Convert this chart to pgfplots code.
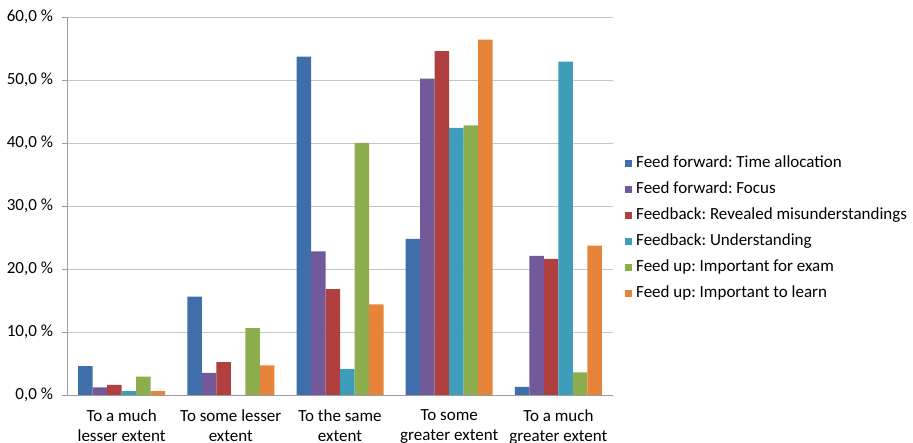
\documentclass[border=0pt]{standalone}
\usepackage{fontspec}
\setmainfont{Carlito}
\usepackage{pgfplots}
\pgfplotsset{compat=1.18}

\definecolor{cBlue}{HTML}{3F6FAA}
\definecolor{cPurple}{HTML}{71599A}
\definecolor{cRed}{HTML}{B0403F}
\definecolor{cCyan}{HTML}{3D9DBB}
\definecolor{cGreen}{HTML}{8CAE4F}
\definecolor{cOrange}{HTML}{E6843A}
\definecolor{cGrid}{HTML}{C4C4C4}

\begin{document}
\frenchspacing
\begin{tikzpicture}
\useasboundingbox (0,0) rectangle (913pt,443pt);
\begin{axis}[
  at={(67pt,48pt)}, anchor=south west,
  scale only axis,
  width=546pt, height=378pt,
  xmin=-0.5, xmax=4.5,
  ymin=0, ymax=60,
  ybar=0pt, bar width=14.5pt,
  axis x line*=bottom, axis y line*=left,
  axis line style={cGrid!80!black, -},
  font=\fontsize{17}{20}\selectfont,
  xtick={0,1,2,3,4},
  xticklabels={{To a much\\lesser extent},{To some lesser\\extent},{To the same\\extent},{To some\\greater extent},{To a much\\greater extent}},
  xticklabel style={align=center, yshift=-6.5pt},
  x tick style={draw=none},
  extra x ticks={-0.5,0.5,1.5,2.5,3.5,4.5},
  extra x tick labels={},
  extra x tick style={tick style={draw=cGrid!80!black}, major tick length=6pt, tick align=outside, grid=none},
  ytick={0,10,20,30,40,50,60},
  yticklabels={{0,0 \%},{10,0 \%},{20,0 \%},{30,0 \%},{40,0 \%},{50,0 \%},{60,0 \%}},
  yticklabel style={xshift=-5.5pt},
  y tick style={draw=cGrid!80!black},
  tick align=outside, major tick length=5pt,
  ymajorgrids, grid style={cGrid},
  legend image code/.code={\fill[#1] (0pt,-3.5pt) rectangle (7pt,3.5pt);},
  legend style={at={(1.022,0.63)}, anchor=north west, draw=none, fill=none,
    font=\fontsize{17}{20}\selectfont, row sep=13pt,
    nodes={inner sep=0pt, text height=10pt, text depth=3pt},
    cells={anchor=west}, inner sep=0pt},
  legend cell align=left,
]
\addplot[draw=none, fill=cBlue] coordinates {(0,4.6) (1,15.6) (2,53.7) (3,24.8) (4,1.3)};
\addplot[draw=none, fill=cPurple] coordinates {(0,1.2) (1,3.5) (2,22.8) (3,50.2) (4,22.1)};
\addplot[draw=none, fill=cRed] coordinates {(0,1.6) (1,5.2) (2,16.8) (3,54.6) (4,21.6)};
\addplot[draw=none, fill=cCyan] coordinates {(0,0.6) (1,0) (2,4.1) (3,42.4) (4,52.9)};
\addplot[draw=none, fill=cGreen] coordinates {(0,2.9) (1,10.6) (2,40.0) (3,42.8) (4,3.6)};
\addplot[draw=none, fill=cOrange] coordinates {(0,0.6) (1,4.7) (2,14.4) (3,56.4) (4,23.7)};
\legend{\hspace{4pt}Feed forward: Time allocation,\hspace{4pt}Feed forward: Focus,\hspace{4pt}Feedback: Revealed misunderstandings,\hspace{4pt}Feedback: Understanding,\hspace{4pt}Feed up: Important for exam,\hspace{4pt}Feed up: Important to learn}
\end{axis}
\end{tikzpicture}
\end{document}
